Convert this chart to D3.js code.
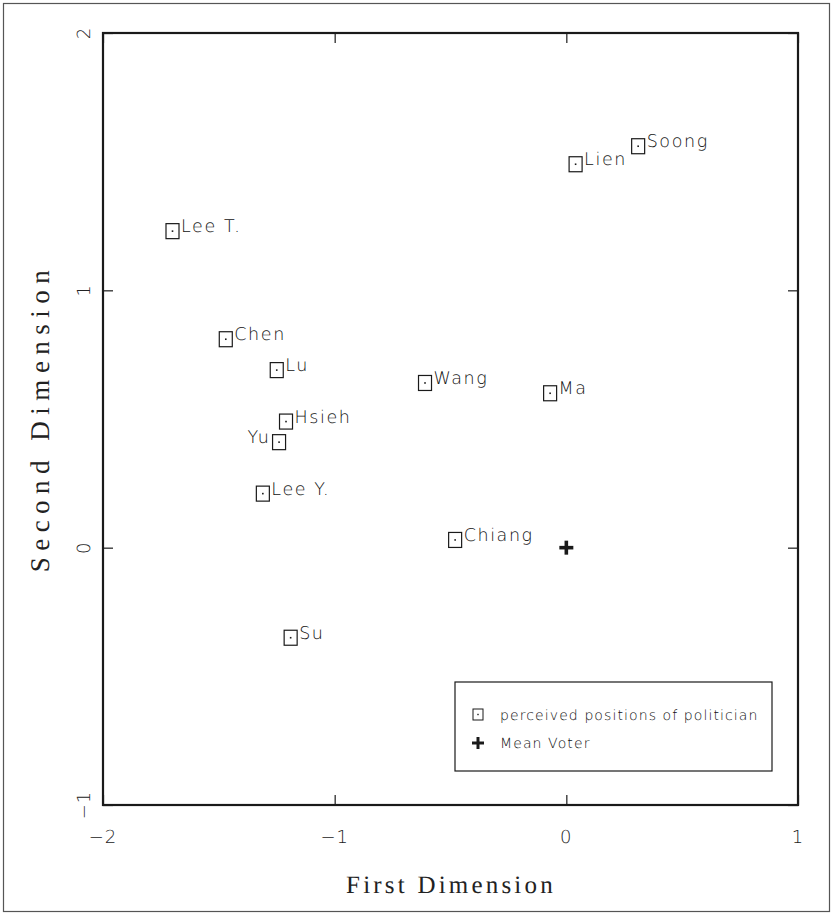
<!DOCTYPE html>
<html><head><meta charset="utf-8">
<script src="https://cdn.jsdelivr.net/npm/d3@7"></script>
<style>body{margin:0;background:#fff}svg{display:block}text{text-rendering:geometricPrecision}</style>
</head><body>
<svg id="c" width="833" height="915"></svg>
<script>
const names = ["Lee T.","Chen","Lu","Hsieh","Yu","Lee Y.","Su","Wang","Chiang","Ma","Lien","Soong"];
const dim1 = [-1.70,-1.47,-1.25,-1.21,-1.24,-1.31,-1.19,-0.61,-0.48,-0.07,0.04,0.31];
const dim2 = [1.23,0.81,0.69,0.49,0.41,0.21,-0.35,0.64,0.03,0.60,1.49,1.56];
const labelSide = ["r","r","r","r","l","r","r","r","r","r","r","r"];
const meanVoter = [0,0];
const xTicks = [-2,-1,0,1];
const yTicks = [-1,0,1,2];

const svg = d3.select("#c");
const x = d3.scaleLinear().domain([-2,1]).range([103,798]);
const y = d3.scaleLinear().domain([-1,2]).range([805,33]);
const ink = "#1a1a1a";

// outer border
svg.append("rect").attr("x",3.5).attr("y",3.5).attr("width",826).attr("height",908)
  .attr("fill","none").attr("stroke","#555").attr("stroke-width",1.2);

// axes with inward ticks
const fmt = d => d < 0 ? "\u2212" + Math.abs(d) : String(d);
const axB = svg.append("g").attr("transform",`translate(0,${y(-1)})`)
  .call(d3.axisTop(x).tickValues(xTicks).tickSize(10).tickFormat(""));
const axT = svg.append("g").attr("transform",`translate(0,${y(2)})`)
  .call(d3.axisBottom(x).tickValues(xTicks).tickSize(10).tickFormat(""));
const axL = svg.append("g").attr("transform",`translate(${x(-2)},0)`)
  .call(d3.axisRight(y).tickValues(yTicks).tickSize(10).tickFormat(""));
const axR = svg.append("g").attr("transform",`translate(${x(1)},0)`)
  .call(d3.axisLeft(y).tickValues(yTicks).tickSize(10).tickFormat(""));
[axB,axT,axL,axR].forEach(g=>{
  g.select(".domain").remove();
  g.selectAll("line").attr("stroke",ink).attr("stroke-width",1.2);
});
svg.append("rect").attr("x",x(-2)).attr("y",y(2)).attr("width",x(1)-x(-2)).attr("height",y(-1)-y(2))
  .attr("fill","none").attr("stroke",ink).attr("stroke-width",2.2);

// tick labels
svg.selectAll(".xt").data(xTicks).join("text")
  .attr("x",d=>x(d)).attr("y",843).attr("text-anchor","middle")
  .attr("font-family","DejaVu Sans").attr("font-weight",300).attr("font-size",18).attr("letter-spacing",1).attr("fill","#222")
  .text(fmt);
svg.selectAll(".yt").data(yTicks).join("text")
  .attr("transform",d=>`translate(90,${y(d)}) rotate(-90)`).attr("text-anchor","middle")
  .attr("font-family","DejaVu Sans").attr("font-weight",300).attr("font-size",18).attr("letter-spacing",1).attr("fill","#222")
  .text(fmt);

// axis titles
svg.append("text").attr("x",451).attr("y",893).attr("text-anchor","middle")
  .attr("font-family","Liberation Serif").attr("font-size",25).attr("letter-spacing",3.2).attr("fill","#222")
  .text("First Dimension");
svg.append("text").attr("transform",`translate(49,${418}) rotate(-90)`).attr("text-anchor","middle")
  .attr("font-family","Liberation Serif").attr("font-size",27).attr("letter-spacing",6.5).attr("fill","#222")
  .text("Second Dimension");

// points
const pts = names.map((n,i)=>({n,x:dim1[i],y:dim2[i],s:labelSide[i]}));
const bw = 13, bh = 15;
const g = svg.append("g");
g.selectAll("rect.p").data(pts).join("rect").attr("class","p")
  .attr("x",d=>x(d.x)-bw/2).attr("y",d=>y(d.y)-bh/2).attr("width",bw).attr("height",bh)
  .attr("fill","none").attr("stroke",ink).attr("stroke-width",1.2);
g.selectAll("rect.dot").data(pts).join("rect").attr("class","dot")
  .attr("x",d=>x(d.x)-0.8).attr("y",d=>y(d.y)-0.8).attr("width",1.6).attr("height",1.6).attr("fill",ink);
g.selectAll("text").data(pts).join("text")
  .attr("x",d=>d.s==="r" ? x(d.x)+bw/2+2 : x(d.x)-bw/2-2)
  .attr("y",d=>y(d.y)+1)
  .attr("text-anchor",d=>d.s==="r"?"start":"end")
  .attr("font-family","DejaVu Sans").attr("font-weight",300).attr("font-size",17.5).attr("letter-spacing",1.6).attr("fill","#111")
  .text(d=>d.n);

// mean voter
const plus = (sel,cx,cy,s,w)=>{
  sel.append("line").attr("x1",cx-s).attr("x2",cx+s).attr("y1",cy).attr("y2",cy).attr("stroke",ink).attr("stroke-width",w);
  sel.append("line").attr("x1",cx).attr("x2",cx).attr("y1",cy-s).attr("y2",cy+s).attr("stroke",ink).attr("stroke-width",w);
};
plus(svg,x(meanVoter[0]),y(meanVoter[1]),7,3.6);

// legend
const lg = svg.append("g");
lg.append("rect").attr("x",455).attr("y",682).attr("width",317).attr("height",89)
  .attr("fill","none").attr("stroke",ink).attr("stroke-width",1.2);
lg.append("rect").attr("x",473).attr("y",709).attr("width",10).attr("height",11)
  .attr("fill","none").attr("stroke",ink).attr("stroke-width",1);
lg.append("rect").attr("x",477.3).attr("y",713.8).attr("width",1.4).attr("height",1.4).attr("fill",ink);
plus(lg,478,743,6,3);
lg.append("text").attr("x",500).attr("y",720).attr("font-family","DejaVu Sans").attr("font-weight",300)
  .attr("font-size",14).attr("letter-spacing",1.1).attr("fill","#111").text("perceived positions of politician");
lg.append("text").attr("x",500).attr("y",748).attr("font-family","DejaVu Sans").attr("font-weight",300)
  .attr("font-size",14).attr("letter-spacing",1.1).attr("fill","#111").text("Mean Voter");
</script>
</body></html>
